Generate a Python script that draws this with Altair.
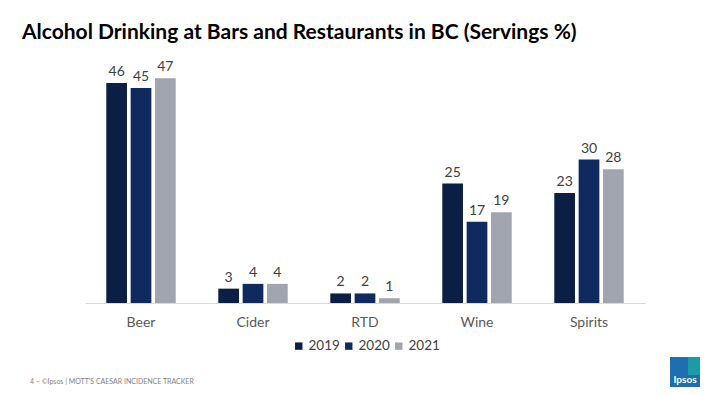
import altair as alt
import pandas as pd

categories = ["Beer", "Cider", "RTD", "Wine", "Spirits"]
years = ["2019", "2020", "2021"]
v2019 = [46, 3, 2, 25, 23]
v2020 = [45, 4, 2, 17, 30]
v2021 = [47, 4, 1, 19, 28]
colors = ["#0b1f45", "#0f2a5f", "#a1a5af"]

rows = []
for i, c in enumerate(categories):
    for y, vals in zip(years, [v2019, v2020, v2021]):
        rows.append({"cat": c, "year": y, "value": vals[i]})
df = pd.DataFrame(rows)

FONT = "Lato"

x = alt.X("cat:N", sort=categories, title=None,
          scale=alt.Scale(paddingInner=0.38, paddingOuter=0.19),
          axis=alt.Axis(labelAngle=0, labelFontSize=14, labelColor="#595959",
                        labelFont=FONT, labelPadding=12, ticks=False,
                        domainColor="#d9d9d9", domainWidth=1, grid=False))
y = alt.Y("value:Q", title=None, scale=alt.Scale(domain=[0, 50]), axis=None)

base = alt.Chart(df).encode(
    x=x, y=y,
    xOffset=alt.XOffset("year:N", sort=years, scale=alt.Scale(paddingInner=0.15)),
)

bars = base.mark_bar().encode(
    color=alt.Color("year:N", sort=years,
                    scale=alt.Scale(domain=years, range=colors),
                    legend=alt.Legend(title=None, orient="none", direction="horizontal",
                                      legendX=207, legendY=275, symbolType="square",
                                      symbolSize=55, labelFontSize=13.5, labelFont=FONT,
                                      labelColor="#404040", columnPadding=2,
                                      labelOffset=3, symbolStrokeWidth=0))
)

labels = base.mark_text(baseline="bottom", dy=-4, fontSize=14, font=FONT,
                        color="#404040").encode(text="value:Q")

one = pd.DataFrame({"a": [0]})
title = alt.Chart(one).mark_text(
    text="Alcohol Drinking at Bars and Restaurants in BC (Servings %)",
    align="left", baseline="middle", fontSize=21, fontWeight="bold",
    font=FONT, color="#000000").encode(x=alt.value(-63), y=alt.value(-31))

footer = alt.Chart(one).mark_text(
    text="4 –   ©Ipsos  |  MOTT'S CAESAR INCIDENCE TRACKER",
    align="left", baseline="middle", fontSize=7, font=FONT,
    color="#7f7f7f").encode(x=alt.value(-55), y=alt.value(318))

logo = alt.Chart(one).mark_rect(color="#1f6fb0").encode(
    x=alt.value(585), x2=alt.value(615), y=alt.value(293), y2=alt.value(323))
logo2 = alt.Chart(one).mark_rect(color="#1aa6a6", opacity=0.8).encode(
    x=alt.value(603), x2=alt.value(615), y=alt.value(293), y2=alt.value(311))
logo_text = alt.Chart(one).mark_text(
    text="Ipsos", align="center", baseline="middle", fontSize=10,
    fontWeight="bold", font=FONT, color="white").encode(
    x=alt.value(600), y=alt.value(316))

chart = alt.layer(bars, labels, title, footer, logo, logo2, logo_text).properties(
    width=560, height=239,
    background="white",
    autosize=alt.AutoSizeParams(type="none"),
    padding={"left": 77, "top": 56, "right": 55, "bottom": 90},
).configure_view(stroke="transparent", strokeWidth=0)

chart.save("out.html", embed_options={"renderer": "svg", "actions": False})
